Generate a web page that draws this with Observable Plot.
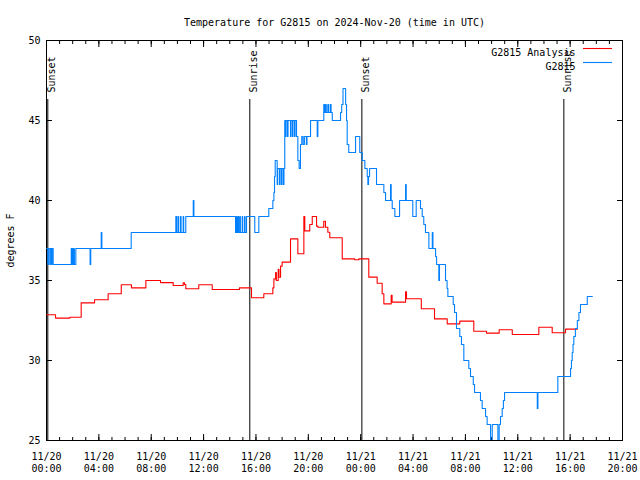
<!DOCTYPE html>
<html><head><meta charset="utf-8">
<script src="https://cdn.jsdelivr.net/npm/d3@7"></script>
<script src="https://cdn.jsdelivr.net/npm/@observablehq/plot@0.6"></script>
<style>html,body{margin:0;padding:0;background:#fff}svg{display:block}</style>
</head><body><div id="chart"></div>
<script>
// ---- data (hours since 2024-11-20 00:00 UTC, temperature °F) ----
const titleText = "Temperature for G2815 on 2024-Nov-20 (time in UTC)";
const yLabel = "degrees F";
const seriesNames = ["G2815 Analysis", "G2815"];
const seriesColors = ["#ff0000", "#0080ff"];

const obsHours = [0.00,0.10,0.14,0.25,0.29,0.38,0.42,0.51,
  1.89,1.93,1.99,2.03,2.09,2.13,2.24,3.33,3.38,4.18,4.23,6.47,
  9.88,9.95,10.06,10.10,10.24,10.28,10.44,10.48,10.64,11.21,11.26,
  14.44,14.51,14.56,14.64,14.68,14.77,14.81,14.95,14.99,15.13,15.17,15.28,
  15.91,16.22,16.98,17.29,17.37,17.42,17.47,17.62,17.66,17.80,17.84,17.95,17.99,18.10,18.14,
  18.20,18.26,18.30,18.41,18.45,18.64,18.68,18.79,18.83,18.95,18.99,19.10,
  19.20,19.30,19.40,19.50,19.60,19.70,19.85,19.90,20.17,20.68,20.73,
  21.18,21.24,21.31,21.37,21.49,21.55,21.68,21.74,21.83,22.46,22.55,22.65,22.85,22.92,22.97,23.09,23.61,23.93,
  24.12,24.32,24.50,24.55,24.60,24.68,25.21,25.77,25.90,26.28,26.33,26.41,26.61,26.97,27.43,27.48,27.98,28.24,
  28.57,28.70,28.82,28.95,29.21,29.47,29.52,29.72,29.80,29.97,30.02,30.18,
  30.48,30.60,30.66,31.07,31.17,31.32,31.57,31.70,31.88,32.26,32.39,32.60,32.70,33.15,33.28,33.54,33.66,
  33.92,34.05,34.48,34.58,34.68,34.81,34.90,34.99,37.49,37.54,39.06,40.03,40.10,40.16,40.22,40.28,40.40,
  40.55,40.67,40.79,41.31,41.69];
const obsTemps = [37,36,37,36,37,36,37,36,
  37,36,37,36,37,36,37,36,37,38,37,38,
  39,38,39,38,39,38,39,38,39,40,39,
  38,39,38,39,38,39,38,39,38,39,38,39,
  38,39,39.5,40,40.5,41.5,42.5,41,42,41,42,41,42,41,42,
  45,44,45,44,45,44,45,44,45,44,45,44,
  42.5,42,43.5,44,43.5,44,43.5,44,45,44,45,
  46,45.5,46,45.5,46,45.5,46,45.5,45,45.5,46,47,46,45,43.5,43,44,43,
  42.5,42,41.5,41,41.5,42,41,40.5,40,41,40,39.5,39,40,41,40,39,40,
  39.5,39,38.5,38,37,38,37,36.5,36,35,36,36,
  35,34.5,34,33.5,33,32,31.5,31,30,29.5,29,28.5,28,27.5,27,26.5,26,
  25,26,25,26,26.5,27,27.5,28,27,28,29,29.5,30,30.5,31,31.5,32,
  32.5,33,33.5,34,34];

const anaHours = [0,0.69,1.78,2.65,3.67,4.71,5.71,6.49,7.59,8.71,9.68,10.44,10.54,10.64,11.63,12.66,14.74,
  15.66,16.6,17.29,17.37,17.50,17.56,17.70,17.76,17.88,18.0,18.64,19.2,19.66,19.73,20.11,20.3,20.63,20.73,
  21.18,21.31,21.49,21.64,22.59,23.53,23.86,24.62,25.26,25.64,25.77,26.33,26.40,27.43,27.50,28.63,29.64,
  30.61,31.57,32.64,33.61,34.58,35.58,37.61,38.63,39.65,40.54];
const anaTemps = [32.86,32.65,32.7,33.6,33.8,34.17,34.73,34.54,35.0,34.87,34.69,34.85,34.75,34.48,34.73,34.44,34.54,
  33.92,34.17,34.54,35.1,35.5,35.0,35.7,35.2,35.9,36.15,37.6,36.67,39.0,38.1,38.5,39.0,38.4,38.33,
  38.7,38.33,38.02,37.67,36.35,36.3,36.35,35.21,34.83,34.17,33.54,34.08,33.65,34.3,33.86,33.23,32.6,
  32.29,32.46,31.83,31.71,31.92,31.625,32.08,31.73,31.96,31.96];

const sunHours = [0.10, 15.53, 24.09, 39.52];
const sunLabels = ["Sunset", "Sunrise", "Sunset", "Sunrise"];
const yTicks = [25, 30, 35, 40, 45, 50];

// ---- build ----
const START = Date.UTC(2024, 10, 20, 0, 0);
const toDate = h => new Date(START + h * 3600e3);
const obs = obsHours.map((h, i) => ({t: toDate(h), v: obsTemps[i]}));
const ana = anaHours.map((h, i) => ({t: toDate(h), v: anaTemps[i]}));
const sun = sunHours.map((h, i) => ({t: toDate(h), label: sunLabels[i]}));
const x0 = toDate(0), x1 = toDate(44);
const majorX = d3.utcHour.every(4).range(x0, new Date(+x1 + 1));
const minorX = d3.utcHour.every(1).range(x0, new Date(+x1 + 1));
const fmt = d3.utcFormat("%m/%d\n%H:%M");
const font = "DejaVu Sans Mono";
const none = () => "";

const plot = Plot.plot({
  width: 640, height: 480,
  marginLeft: 46, marginRight: 18, marginTop: 40, marginBottom: 40,
  style: {fontFamily: font, fontSize: "10px", background: "#fff", color: "#000"},
  x: {type: "utc", domain: [x0, x1]},
  y: {domain: [25, 50]},
  marks: [
    // tick marks (inside, mirrored)
    Plot.axisX(majorX, {anchor: "bottom", tickSize: -6, tickFormat: none, label: null}),
    Plot.axisX(majorX, {anchor: "top", tickSize: -6, tickFormat: none, label: null}),
    Plot.axisX(minorX, {anchor: "bottom", tickSize: -3, tickFormat: none, label: null}),
    Plot.axisX(minorX, {anchor: "top", tickSize: -3, tickFormat: none, label: null}),
    Plot.axisY(yTicks, {anchor: "left", tickSize: -6, tickFormat: none, label: null}),
    Plot.axisY(yTicks, {anchor: "right", tickSize: -6, tickFormat: none, label: null}),
    // labels
    Plot.axisX(majorX, {anchor: "bottom", tickSize: 0, tickPadding: 11, tickFormat: fmt, lineHeight: 1.2, label: null}),
    Plot.axisY(yTicks, {anchor: "left", tickSize: 0, tickPadding: 6, label: yLabel, labelAnchor: "center", labelArrow: "none", labelOffset: 40}),
    Plot.frame({stroke: "#000"}),
    // sunrise/sunset
    Plot.ruleX(sun, {x: "t", stroke: "#000", strokeWidth: 1, insetTop: 59}),
    Plot.text(sun, {x: "t", text: "label", frameAnchor: "top", dy: 52, rotate: -90, textAnchor: "start", fill: "#000"}),
    // series
    Plot.line(ana, {x: "t", y: "v", curve: "step-after", stroke: seriesColors[0], strokeWidth: 1.1, clip: true}),
    Plot.line(obs, {x: "t", y: "v", curve: "step-after", stroke: seriesColors[1], strokeWidth: 1.1, clip: true}),
    // title and legend text
    Plot.text([titleText], {frameAnchor: "top", dy: -22, fill: "#000"}),
    Plot.text([seriesNames[0]], {frameAnchor: "top-right", dx: -47, dy: 8, textAnchor: "end", fill: "#000"}),
    Plot.text([seriesNames[1]], {frameAnchor: "top-right", dx: -47, dy: 22, textAnchor: "end", fill: "#000"})
  ]
});

// legend swatches
const svg = d3.select(plot);
seriesColors.forEach((c, i) => {
  svg.append("line")
    .attr("x1", 640 - 18 - 39).attr("x2", 640 - 18 - 10)
    .attr("y1", 48.5 + i * 14).attr("y2", 48.5 + i * 14)
    .attr("stroke", c).attr("stroke-width", 1.1);
});
document.getElementById("chart").appendChild(plot);
</script>
</body></html>
